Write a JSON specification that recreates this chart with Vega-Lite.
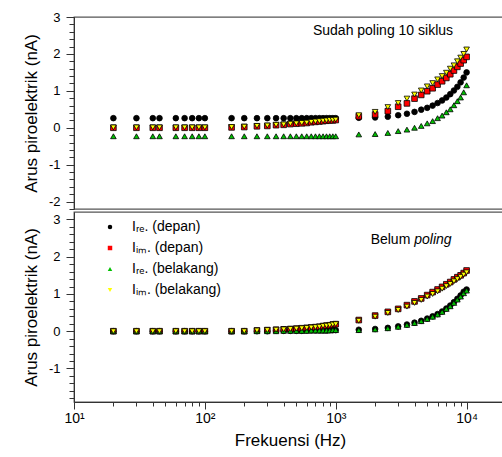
{
  "$schema": "https://vega.github.io/schema/vega-lite/v6.json",
  "padding": {"left": 21, "top": 10, "right": 0, "bottom": 0},
  "background": "white",
  "config": {
    "font": "Liberation Sans",
    "view": {"stroke": "#555", "strokeWidth": 1.3},
    "axis": {"grid": false, "domainColor": "#333", "tickColor": "#333", "labelColor": "black", "titleColor": "black", "labelFont": "Liberation Sans", "titleFont": "Liberation Sans", "titleFontWeight": "normal"},
    "text": {"font": "Liberation Sans"}
  },
  "spacing": 0,
  "resolve": {"legend": {"fill": "independent", "shape": "independent"}},
  "datasets": {
    "atas": [
      {"series":"re_depan","freq":20,"nA":0.26},{"series":"re_depan","freq":30,"nA":0.26},{"series":"re_depan","freq":40,"nA":0.26},{"series":"re_depan","freq":45,"nA":0.26},{"series":"re_depan","freq":60,"nA":0.26},{"series":"re_depan","freq":70,"nA":0.26},{"series":"re_depan","freq":80,"nA":0.26},{"series":"re_depan","freq":90,"nA":0.26},{"series":"re_depan","freq":100,"nA":0.26},{"series":"re_depan","freq":160,"nA":0.26},{"series":"re_depan","freq":200,"nA":0.26},{"series":"re_depan","freq":250,"nA":0.26},{"series":"re_depan","freq":300,"nA":0.26},{"series":"re_depan","freq":350,"nA":0.26},{"series":"re_depan","freq":400,"nA":0.26},{"series":"re_depan","freq":450,"nA":0.26},{"series":"re_depan","freq":500,"nA":0.26},{"series":"re_depan","freq":550,"nA":0.26},{"series":"re_depan","freq":600,"nA":0.26},{"series":"re_depan","freq":650,"nA":0.26},{"series":"re_depan","freq":700,"nA":0.26},{"series":"re_depan","freq":750,"nA":0.26},{"series":"re_depan","freq":800,"nA":0.26},{"series":"re_depan","freq":850,"nA":0.26},{"series":"re_depan","freq":900,"nA":0.26},{"series":"re_depan","freq":950,"nA":0.26},{"series":"re_depan","freq":1000,"nA":0.26},
      {"series":"re_depan","freq":1500,"nA":0.27},{"series":"re_depan","freq":2000,"nA":0.28},{"series":"re_depan","freq":2500,"nA":0.30},{"series":"re_depan","freq":3000,"nA":0.34},{"series":"re_depan","freq":3500,"nA":0.38},{"series":"re_depan","freq":4000,"nA":0.43},{"series":"re_depan","freq":4500,"nA":0.49},{"series":"re_depan","freq":5000,"nA":0.54},{"series":"re_depan","freq":5500,"nA":0.60},{"series":"re_depan","freq":6000,"nA":0.67},{"series":"re_depan","freq":6500,"nA":0.74},{"series":"re_depan","freq":7000,"nA":0.82},{"series":"re_depan","freq":7500,"nA":0.91},{"series":"re_depan","freq":8000,"nA":1.01},{"series":"re_depan","freq":8500,"nA":1.11},{"series":"re_depan","freq":9000,"nA":1.23},{"series":"re_depan","freq":9500,"nA":1.36},{"series":"re_depan","freq":10000,"nA":1.50},
      {"series":"im_depan","freq":20,"nA":0},{"series":"im_depan","freq":30,"nA":0},{"series":"im_depan","freq":40,"nA":0},{"series":"im_depan","freq":45,"nA":0},{"series":"im_depan","freq":60,"nA":0},{"series":"im_depan","freq":70,"nA":0},{"series":"im_depan","freq":80,"nA":0},{"series":"im_depan","freq":90,"nA":0},{"series":"im_depan","freq":100,"nA":0},{"series":"im_depan","freq":160,"nA":0.01},{"series":"im_depan","freq":200,"nA":0.02},{"series":"im_depan","freq":250,"nA":0.04},{"series":"im_depan","freq":300,"nA":0.05},{"series":"im_depan","freq":350,"nA":0.07},{"series":"im_depan","freq":400,"nA":0.08},{"series":"im_depan","freq":450,"nA":0.10},{"series":"im_depan","freq":500,"nA":0.11},{"series":"im_depan","freq":550,"nA":0.12},{"series":"im_depan","freq":600,"nA":0.13},{"series":"im_depan","freq":650,"nA":0.15},{"series":"im_depan","freq":700,"nA":0.16},{"series":"im_depan","freq":750,"nA":0.17},{"series":"im_depan","freq":800,"nA":0.18},{"series":"im_depan","freq":850,"nA":0.19},{"series":"im_depan","freq":900,"nA":0.20},{"series":"im_depan","freq":950,"nA":0.20},{"series":"im_depan","freq":1000,"nA":0.21},
      {"series":"im_depan","freq":1500,"nA":0.31},{"series":"im_depan","freq":2000,"nA":0.36},{"series":"im_depan","freq":2500,"nA":0.45},{"series":"im_depan","freq":3000,"nA":0.57},{"series":"im_depan","freq":3500,"nA":0.66},{"series":"im_depan","freq":4000,"nA":0.79},{"series":"im_depan","freq":4500,"nA":0.89},{"series":"im_depan","freq":5000,"nA":0.99},{"series":"im_depan","freq":5500,"nA":1.07},{"series":"im_depan","freq":6000,"nA":1.17},{"series":"im_depan","freq":6500,"nA":1.26},{"series":"im_depan","freq":7000,"nA":1.35},{"series":"im_depan","freq":7500,"nA":1.45},{"series":"im_depan","freq":8000,"nA":1.55},{"series":"im_depan","freq":8500,"nA":1.65},{"series":"im_depan","freq":9000,"nA":1.74},{"series":"im_depan","freq":9500,"nA":1.83},{"series":"im_depan","freq":10000,"nA":1.92},
      {"series":"re_belakang","freq":20,"nA":-0.23},{"series":"re_belakang","freq":30,"nA":-0.23},{"series":"re_belakang","freq":40,"nA":-0.23},{"series":"re_belakang","freq":45,"nA":-0.23},{"series":"re_belakang","freq":60,"nA":-0.23},{"series":"re_belakang","freq":70,"nA":-0.23},{"series":"re_belakang","freq":80,"nA":-0.23},{"series":"re_belakang","freq":90,"nA":-0.23},{"series":"re_belakang","freq":100,"nA":-0.23},{"series":"re_belakang","freq":160,"nA":-0.23},{"series":"re_belakang","freq":200,"nA":-0.23},{"series":"re_belakang","freq":250,"nA":-0.23},{"series":"re_belakang","freq":300,"nA":-0.23},{"series":"re_belakang","freq":350,"nA":-0.23},{"series":"re_belakang","freq":400,"nA":-0.23},{"series":"re_belakang","freq":450,"nA":-0.23},{"series":"re_belakang","freq":500,"nA":-0.23},{"series":"re_belakang","freq":550,"nA":-0.23},{"series":"re_belakang","freq":600,"nA":-0.23},{"series":"re_belakang","freq":650,"nA":-0.23},{"series":"re_belakang","freq":700,"nA":-0.23},{"series":"re_belakang","freq":750,"nA":-0.23},{"series":"re_belakang","freq":800,"nA":-0.23},{"series":"re_belakang","freq":850,"nA":-0.23},{"series":"re_belakang","freq":900,"nA":-0.23},{"series":"re_belakang","freq":950,"nA":-0.23},{"series":"re_belakang","freq":1000,"nA":-0.23},
      {"series":"re_belakang","freq":1500,"nA":-0.18},{"series":"re_belakang","freq":2000,"nA":-0.17},{"series":"re_belakang","freq":2500,"nA":-0.14},{"series":"re_belakang","freq":3000,"nA":-0.09},{"series":"re_belakang","freq":3500,"nA":-0.05},{"series":"re_belakang","freq":4000,"nA":0.0},{"series":"re_belakang","freq":4500,"nA":0.05},{"series":"re_belakang","freq":5000,"nA":0.12},{"series":"re_belakang","freq":5500,"nA":0.18},{"series":"re_belakang","freq":6000,"nA":0.26},{"series":"re_belakang","freq":6500,"nA":0.33},{"series":"re_belakang","freq":7000,"nA":0.42},{"series":"re_belakang","freq":7500,"nA":0.50},{"series":"re_belakang","freq":8000,"nA":0.61},{"series":"re_belakang","freq":8500,"nA":0.72},{"series":"re_belakang","freq":9000,"nA":0.82},{"series":"re_belakang","freq":9500,"nA":0.96},{"series":"re_belakang","freq":10000,"nA":1.15},
      {"series":"im_belakang","freq":20,"nA":0.01},{"series":"im_belakang","freq":30,"nA":0.01},{"series":"im_belakang","freq":40,"nA":0.01},{"series":"im_belakang","freq":45,"nA":0.01},{"series":"im_belakang","freq":60,"nA":0.01},{"series":"im_belakang","freq":70,"nA":0.01},{"series":"im_belakang","freq":80,"nA":0.01},{"series":"im_belakang","freq":90,"nA":0.01},{"series":"im_belakang","freq":100,"nA":0.01},{"series":"im_belakang","freq":160,"nA":0.02},{"series":"im_belakang","freq":200,"nA":0.03},{"series":"im_belakang","freq":250,"nA":0.05},{"series":"im_belakang","freq":300,"nA":0.06},{"series":"im_belakang","freq":350,"nA":0.08},{"series":"im_belakang","freq":400,"nA":0.09},{"series":"im_belakang","freq":450,"nA":0.11},{"series":"im_belakang","freq":500,"nA":0.12},{"series":"im_belakang","freq":550,"nA":0.13},{"series":"im_belakang","freq":600,"nA":0.14},{"series":"im_belakang","freq":650,"nA":0.16},{"series":"im_belakang","freq":700,"nA":0.17},{"series":"im_belakang","freq":750,"nA":0.18},{"series":"im_belakang","freq":800,"nA":0.19},{"series":"im_belakang","freq":850,"nA":0.20},{"series":"im_belakang","freq":900,"nA":0.21},{"series":"im_belakang","freq":950,"nA":0.21},{"series":"im_belakang","freq":1000,"nA":0.22},
      {"series":"im_belakang","freq":1500,"nA":0.34},{"series":"im_belakang","freq":2000,"nA":0.43},{"series":"im_belakang","freq":2500,"nA":0.56},{"series":"im_belakang","freq":3000,"nA":0.67},{"series":"im_belakang","freq":3500,"nA":0.79},{"series":"im_belakang","freq":4000,"nA":0.90},{"series":"im_belakang","freq":4500,"nA":1.01},{"series":"im_belakang","freq":5000,"nA":1.12},{"series":"im_belakang","freq":5500,"nA":1.21},{"series":"im_belakang","freq":6000,"nA":1.31},{"series":"im_belakang","freq":6500,"nA":1.40},{"series":"im_belakang","freq":7000,"nA":1.49},{"series":"im_belakang","freq":7500,"nA":1.60},{"series":"im_belakang","freq":8000,"nA":1.69},{"series":"im_belakang","freq":8500,"nA":1.80},{"series":"im_belakang","freq":9000,"nA":1.90},{"series":"im_belakang","freq":9500,"nA":2.00},{"series":"im_belakang","freq":10000,"nA":2.12}
    ],
    "bawah": [
      {"series":"re_depan","freq":20,"nA":0},{"series":"re_depan","freq":30,"nA":0},{"series":"re_depan","freq":40,"nA":0},{"series":"re_depan","freq":45,"nA":0},{"series":"re_depan","freq":60,"nA":0},{"series":"re_depan","freq":70,"nA":0},{"series":"re_depan","freq":80,"nA":0},{"series":"re_depan","freq":90,"nA":0},{"series":"re_depan","freq":100,"nA":0},{"series":"re_depan","freq":160,"nA":0},{"series":"re_depan","freq":200,"nA":0},{"series":"re_depan","freq":250,"nA":0},{"series":"re_depan","freq":300,"nA":0},{"series":"re_depan","freq":350,"nA":0.01},{"series":"re_depan","freq":400,"nA":0.01},{"series":"re_depan","freq":450,"nA":0.01},{"series":"re_depan","freq":500,"nA":0.01},{"series":"re_depan","freq":550,"nA":0.01},{"series":"re_depan","freq":600,"nA":0.02},{"series":"re_depan","freq":650,"nA":0.02},{"series":"re_depan","freq":700,"nA":0.02},{"series":"re_depan","freq":750,"nA":0.02},{"series":"re_depan","freq":800,"nA":0.02},{"series":"re_depan","freq":850,"nA":0.02},{"series":"re_depan","freq":900,"nA":0.03},{"series":"re_depan","freq":950,"nA":0.03},{"series":"re_depan","freq":1000,"nA":0.03},
      {"series":"re_depan","freq":1500,"nA":0.04},{"series":"re_depan","freq":2000,"nA":0.06},{"series":"re_depan","freq":2500,"nA":0.09},{"series":"re_depan","freq":3000,"nA":0.13},{"series":"re_depan","freq":3500,"nA":0.18},{"series":"re_depan","freq":4000,"nA":0.23},{"series":"re_depan","freq":4500,"nA":0.28},{"series":"re_depan","freq":5000,"nA":0.34},{"series":"re_depan","freq":5500,"nA":0.40},{"series":"re_depan","freq":6000,"nA":0.46},{"series":"re_depan","freq":6500,"nA":0.53},{"series":"re_depan","freq":7000,"nA":0.61},{"series":"re_depan","freq":7500,"nA":0.69},{"series":"re_depan","freq":8000,"nA":0.78},{"series":"re_depan","freq":8500,"nA":0.87},{"series":"re_depan","freq":9000,"nA":0.96},{"series":"re_depan","freq":9500,"nA":1.06},{"series":"re_depan","freq":10000,"nA":1.12},
      {"series":"im_depan","freq":20,"nA":0},{"series":"im_depan","freq":30,"nA":0},{"series":"im_depan","freq":40,"nA":0},{"series":"im_depan","freq":45,"nA":0},{"series":"im_depan","freq":60,"nA":0},{"series":"im_depan","freq":70,"nA":0},{"series":"im_depan","freq":80,"nA":0},{"series":"im_depan","freq":90,"nA":0},{"series":"im_depan","freq":100,"nA":0},{"series":"im_depan","freq":160,"nA":0},{"series":"im_depan","freq":200,"nA":0},{"series":"im_depan","freq":250,"nA":0.02},{"series":"im_depan","freq":300,"nA":0.03},{"series":"im_depan","freq":350,"nA":0.04},{"series":"im_depan","freq":400,"nA":0.05},{"series":"im_depan","freq":450,"nA":0.06},{"series":"im_depan","freq":500,"nA":0.07},{"series":"im_depan","freq":550,"nA":0.08},{"series":"im_depan","freq":600,"nA":0.09},{"series":"im_depan","freq":650,"nA":0.10},{"series":"im_depan","freq":700,"nA":0.11},{"series":"im_depan","freq":750,"nA":0.12},{"series":"im_depan","freq":800,"nA":0.14},{"series":"im_depan","freq":850,"nA":0.15},{"series":"im_depan","freq":900,"nA":0.16},{"series":"im_depan","freq":950,"nA":0.18},{"series":"im_depan","freq":1000,"nA":0.19},
      {"series":"im_depan","freq":1500,"nA":0.30},{"series":"im_depan","freq":2000,"nA":0.42},{"series":"im_depan","freq":2500,"nA":0.52},{"series":"im_depan","freq":3000,"nA":0.60},{"series":"im_depan","freq":3500,"nA":0.70},{"series":"im_depan","freq":4000,"nA":0.80},{"series":"im_depan","freq":4500,"nA":0.88},{"series":"im_depan","freq":5000,"nA":0.97},{"series":"im_depan","freq":5500,"nA":1.05},{"series":"im_depan","freq":6000,"nA":1.12},{"series":"im_depan","freq":6500,"nA":1.19},{"series":"im_depan","freq":7000,"nA":1.26},{"series":"im_depan","freq":7500,"nA":1.32},{"series":"im_depan","freq":8000,"nA":1.39},{"series":"im_depan","freq":8500,"nA":1.45},{"series":"im_depan","freq":9000,"nA":1.50},{"series":"im_depan","freq":9500,"nA":1.56},{"series":"im_depan","freq":10000,"nA":1.63},
      {"series":"re_belakang","freq":20,"nA":0},{"series":"re_belakang","freq":30,"nA":0},{"series":"re_belakang","freq":40,"nA":0},{"series":"re_belakang","freq":45,"nA":0},{"series":"re_belakang","freq":60,"nA":0},{"series":"re_belakang","freq":70,"nA":0},{"series":"re_belakang","freq":80,"nA":0},{"series":"re_belakang","freq":90,"nA":0},{"series":"re_belakang","freq":100,"nA":0},{"series":"re_belakang","freq":160,"nA":0},{"series":"re_belakang","freq":200,"nA":0},{"series":"re_belakang","freq":250,"nA":0},{"series":"re_belakang","freq":300,"nA":0},{"series":"re_belakang","freq":350,"nA":0},{"series":"re_belakang","freq":400,"nA":0.01},{"series":"re_belakang","freq":450,"nA":0.01},{"series":"re_belakang","freq":500,"nA":0.01},{"series":"re_belakang","freq":550,"nA":0.01},{"series":"re_belakang","freq":600,"nA":0.01},{"series":"re_belakang","freq":650,"nA":0.02},{"series":"re_belakang","freq":700,"nA":0.02},{"series":"re_belakang","freq":750,"nA":0.02},{"series":"re_belakang","freq":800,"nA":0.02},{"series":"re_belakang","freq":850,"nA":0.02},{"series":"re_belakang","freq":900,"nA":0.02},{"series":"re_belakang","freq":950,"nA":0.03},{"series":"re_belakang","freq":1000,"nA":0.03},
      {"series":"re_belakang","freq":1500,"nA":0.03},{"series":"re_belakang","freq":2000,"nA":0.05},{"series":"re_belakang","freq":2500,"nA":0.08},{"series":"re_belakang","freq":3000,"nA":0.12},{"series":"re_belakang","freq":3500,"nA":0.17},{"series":"re_belakang","freq":4000,"nA":0.22},{"series":"re_belakang","freq":4500,"nA":0.27},{"series":"re_belakang","freq":5000,"nA":0.33},{"series":"re_belakang","freq":5500,"nA":0.39},{"series":"re_belakang","freq":6000,"nA":0.45},{"series":"re_belakang","freq":6500,"nA":0.52},{"series":"re_belakang","freq":7000,"nA":0.60},{"series":"re_belakang","freq":7500,"nA":0.67},{"series":"re_belakang","freq":8000,"nA":0.76},{"series":"re_belakang","freq":8500,"nA":0.85},{"series":"re_belakang","freq":9000,"nA":0.93},{"series":"re_belakang","freq":9500,"nA":1.02},{"series":"re_belakang","freq":10000,"nA":1.09},
      {"series":"im_belakang","freq":20,"nA":0},{"series":"im_belakang","freq":30,"nA":0},{"series":"im_belakang","freq":40,"nA":0},{"series":"im_belakang","freq":45,"nA":0},{"series":"im_belakang","freq":60,"nA":0},{"series":"im_belakang","freq":70,"nA":0},{"series":"im_belakang","freq":80,"nA":0},{"series":"im_belakang","freq":90,"nA":0},{"series":"im_belakang","freq":100,"nA":0},{"series":"im_belakang","freq":160,"nA":0},{"series":"im_belakang","freq":200,"nA":0},{"series":"im_belakang","freq":250,"nA":0.02},{"series":"im_belakang","freq":300,"nA":0.03},{"series":"im_belakang","freq":350,"nA":0.04},{"series":"im_belakang","freq":400,"nA":0.05},{"series":"im_belakang","freq":450,"nA":0.06},{"series":"im_belakang","freq":500,"nA":0.07},{"series":"im_belakang","freq":550,"nA":0.08},{"series":"im_belakang","freq":600,"nA":0.09},{"series":"im_belakang","freq":650,"nA":0.10},{"series":"im_belakang","freq":700,"nA":0.11},{"series":"im_belakang","freq":750,"nA":0.12},{"series":"im_belakang","freq":800,"nA":0.14},{"series":"im_belakang","freq":850,"nA":0.15},{"series":"im_belakang","freq":900,"nA":0.16},{"series":"im_belakang","freq":950,"nA":0.18},{"series":"im_belakang","freq":1000,"nA":0.19},
      {"series":"im_belakang","freq":1500,"nA":0.28},{"series":"im_belakang","freq":2000,"nA":0.39},{"series":"im_belakang","freq":2500,"nA":0.49},{"series":"im_belakang","freq":3000,"nA":0.57},{"series":"im_belakang","freq":3500,"nA":0.66},{"series":"im_belakang","freq":4000,"nA":0.76},{"series":"im_belakang","freq":4500,"nA":0.84},{"series":"im_belakang","freq":5000,"nA":0.93},{"series":"im_belakang","freq":5500,"nA":1.00},{"series":"im_belakang","freq":6000,"nA":1.07},{"series":"im_belakang","freq":6500,"nA":1.14},{"series":"im_belakang","freq":7000,"nA":1.21},{"series":"im_belakang","freq":7500,"nA":1.27},{"series":"im_belakang","freq":8000,"nA":1.34},{"series":"im_belakang","freq":8500,"nA":1.40},{"series":"im_belakang","freq":9000,"nA":1.46},{"series":"im_belakang","freq":9500,"nA":1.52},{"series":"im_belakang","freq":10000,"nA":1.58}
    ]
  },
  "vconcat": [
    {
      "width": 432,
      "height": 192,
      "resolve": {"axis": {"y": "independent", "x": "independent"}},
      "layer": [
        {
          "data": {"name": "atas"},
          "mark": {"type": "point", "filled": true, "opacity": 1, "stroke": "black", "strokeWidth": 0.8, "size": 32},
          "encoding": {
            "x": {"field": "freq", "type": "quantitative", "scale": {"type": "log", "domain": [10, 20000]}, "axis": null},
            "y": {"field": "nA", "type": "quantitative", "scale": {"domain": [-2.2, 3], "nice": false, "zero": false},
                  "axis": {"values": [-2, -1, 0, 1, 2, 3], "title": "Arus piroelektrik (nA)", "titleFontSize": 17, "titlePadding": 8, "labelFontSize": 13, "tickSize": 8, "labelPadding": 6, "labelExpr": "datum.value < 0 ? '-' + abs(datum.value) : '' + datum.value"}},
            "fill": {"field": "series", "type": "nominal", "scale": {"domain": ["re_depan", "im_depan", "re_belakang", "im_belakang"], "range": ["#000000", "#ff0000", "#00c000", "#ffff00"]}, "legend": null},
            "shape": {"field": "series", "type": "nominal", "scale": {"domain": ["re_depan", "im_depan", "re_belakang", "im_belakang"], "range": ["circle", "square", "triangle-up", "triangle-down"]}, "legend": null}
          }
        },
        {
          "data": {"values": [{"freq": 2296, "nA": 2.63, "label": "Sudah poling 10 siklus"}]},
          "mark": {"type": "text", "fontSize": 14, "align": "center", "baseline": "middle", "color": "black"},
          "encoding": {
            "x": {"field": "freq", "type": "quantitative", "scale": {"type": "log", "domain": [10, 20000]}, "axis": null},
            "y": {"field": "nA", "type": "quantitative", "scale": {"domain": [-2.2, 3], "nice": false, "zero": false},
                  "axis": {"orient": "left", "title": null, "labels": false, "domain": false, "tickSize": 5, "values": [-2.2, -1.8, -1.6, -1.4, -1.2, -0.8, -0.6, -0.4, -0.2, 0.2, 0.4, 0.6, 0.8, 1.2, 1.4, 1.6, 1.8, 2.2, 2.4, 2.6, 2.8]}},
            "text": {"field": "label"}
          }
        }
      ]
    },
    {
      "width": 432,
      "height": 190,
      "resolve": {"axis": {"y": "independent", "x": "independent"}},
      "layer": [
        {
          "data": {"name": "bawah"},
          "mark": {"type": "point", "filled": true, "opacity": 1, "stroke": "black", "strokeWidth": 0.8, "size": 32},
          "encoding": {
            "x": {"field": "freq", "type": "quantitative", "scale": {"type": "log", "domain": [10, 20000]},
                  "axis": {"values": [10, 100, 1000, 10000], "title": "Frekuensi (Hz)", "titleFontSize": 17, "titlePadding": 7, "labelFontSize": 14, "tickSize": 7, "labelPadding": 2, "labelFlush": false, "labelExpr": "datum.value == 10 ? '10¹' : datum.value == 100 ? '10²' : datum.value == 1000 ? '10³' : '10⁴'"}},
            "y": {"field": "nA", "type": "quantitative", "scale": {"domain": [-1.9, 3.2], "nice": false, "zero": false},
                  "axis": {"values": [-1, 0, 1, 2, 3], "title": "Arus piroelektrik (nA)", "titleFontSize": 17, "titlePadding": 8, "labelFontSize": 13, "tickSize": 8, "labelPadding": 6, "labelExpr": "datum.value < 0 ? '-' + abs(datum.value) : '' + datum.value"}},
            "fill": {"field": "series", "type": "nominal", "scale": {"domain": ["re_depan", "im_depan", "re_belakang", "im_belakang"], "range": ["#000000", "#ff0000", "#00c000", "#ffff00"]},
                     "legend": {"orient": "none", "legendX": 29, "legendY": 8, "title": null, "padding": 0, "labelFontSize": 14, "labelOffset": 15, "rowPadding": 7, "symbolSize": 20, "symbolStrokeColor": "black", "symbolStrokeWidth": 0.7, "symbolOpacity": 1, "labelExpr": "datum.value == 're_depan' ? 'Iᵣₑ. (depan)' : datum.value == 'im_depan' ? 'Iᵢₘ. (depan)' : datum.value == 're_belakang' ? 'Iᵣₑ. (belakang)' : 'Iᵢₘ. (belakang)'"}},
            "shape": {"field": "series", "type": "nominal", "scale": {"domain": ["re_depan", "im_depan", "re_belakang", "im_belakang"], "range": ["circle", "square", "triangle-up", "triangle-down"]},
                     "legend": {"orient": "none", "legendX": 29, "legendY": 8, "title": null, "padding": 0, "labelFontSize": 14, "labelOffset": 15, "rowPadding": 7, "symbolSize": 20, "symbolStrokeColor": "black", "symbolStrokeWidth": 0.7, "symbolOpacity": 1, "labelExpr": "datum.value == 're_depan' ? 'Iᵣₑ. (depan)' : datum.value == 'im_depan' ? 'Iᵢₘ. (depan)' : datum.value == 're_belakang' ? 'Iᵣₑ. (belakang)' : 'Iᵢₘ. (belakang)'"}}
          }
        },
        {
          "data": {"values": [{"freq": 3715, "nA": 2.45, "label": "Belum"}]},
          "mark": {"type": "text", "fontSize": 14, "align": "right", "baseline": "middle", "color": "black"},
          "encoding": {
            "x": {"field": "freq", "type": "quantitative", "scale": {"type": "log", "domain": [10, 20000]},
                  "axis": {"orient": "bottom", "title": null, "labels": false, "domain": false, "tickSize": 4, "values": [20, 30, 40, 50, 60, 70, 80, 90, 200, 300, 400, 500, 600, 700, 800, 900, 2000, 3000, 4000, 5000, 6000, 7000, 8000, 9000]}},
            "y": {"field": "nA", "type": "quantitative", "scale": {"domain": [-1.9, 3.2], "nice": false, "zero": false},
                  "axis": {"orient": "left", "title": null, "labels": false, "domain": false, "tickSize": 5, "values": [-1.8, -1.6, -1.4, -1.2, -0.8, -0.6, -0.4, -0.2, 0.2, 0.4, 0.6, 0.8, 1.2, 1.4, 1.6, 1.8, 2.2, 2.4, 2.6, 2.8]}},
            "text": {"field": "label"}
          }
        },
        {
          "data": {"values": [{"freq": 3980, "nA": 2.45, "label": "poling"}]},
          "mark": {"type": "text", "fontSize": 14, "fontStyle": "italic", "align": "left", "baseline": "middle", "color": "black"},
          "encoding": {
            "x": {"field": "freq", "type": "quantitative", "scale": {"type": "log", "domain": [10, 20000]}, "axis": null},
            "y": {"field": "nA", "type": "quantitative", "scale": {"domain": [-1.9, 3.2], "nice": false, "zero": false}, "axis": null},
            "text": {"field": "label"}
          }
        }
      ]
    }
  ]
}
